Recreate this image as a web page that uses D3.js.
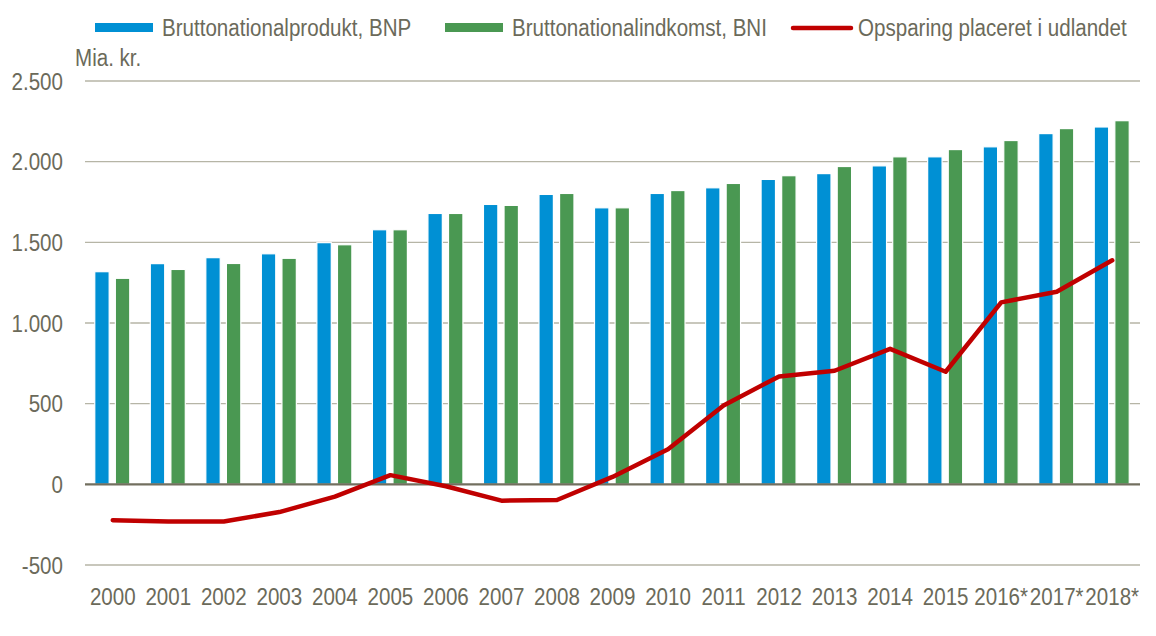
<!DOCTYPE html>
<html>
<head>
<meta charset="utf-8">
<script src="https://cdn.jsdelivr.net/npm/d3@7"></script>
<style>
  body { margin: 0; background: #fff; }
  text { font-family: "Liberation Sans", Arial, sans-serif; fill: #6b6a5a; font-size: 24.5px; }
</style>
</head>
<body>
<svg id="chart" width="1156" height="636"></svg>
<script>
// data (mia. kr.)
var years = ["2000", "2001", "2002", "2003", "2004", "2005", "2006", "2007", "2008", "2009",
             "2010", "2011", "2012", "2013", "2014", "2015", "2016*", "2017*", "2018*"];
var bnp = [1318, 1368, 1405, 1429, 1498, 1578, 1679, 1735, 1797, 1714,
           1803, 1838, 1890, 1926, 1974, 2030, 2092, 2174, 2215];
var bni = [1277, 1332, 1369, 1401, 1485, 1578, 1679, 1729, 1803, 1714,
           1821, 1865, 1913, 1970, 2030, 2075, 2131, 2205, 2254];
var opsparing = [-222, -230, -230, -172, -76, 57, -12, -101, -97, 46,
                 218, 489, 669, 704, 840, 698, 1128, 1194, 1389];
var yTicks = [-500, 0, 500, 1000, 1500, 2000, 2500];
var seriesNames = ["Bruttonationalprodukt, BNP", "Bruttonationalindkomst, BNI", "Opsparing placeret i udlandet"];

var colors = { bnp: "#0090d4", bni: "#4a9852", line: "#c00000" };

var svg = d3.select("#chart");

var x = d3.scaleBand().domain(years).range([85, 1140]);
var y = d3.scaleLinear().domain([-500, 2500]).range([565, 81]);
var xs = d3.scaleBand().domain(["bnp", "bni"]).range([-18, 17]).paddingInner(0.3);

var fmt = function (v) {
  return d3.format(",")(v).replace(/,/g, ".").replace("\u2212", "-");
};

// no narrow face installed, so squeeze the sans horizontally like Arial Narrow
var narrow = function (selection, px, py) {
  selection
    .attr("x", 0).attr("y", 0)
    .attr("transform", function (d, i) {
      return "translate(" + px(d, i) + "," + py(d, i) + ") scale(0.84,1)";
    });
};

// gridlines
svg.append("g")
  .selectAll("line")
  .data(yTicks.filter(function (t) { return t !== 0; }))
  .join("line")
    .attr("x1", 85).attr("x2", 1140)
    .attr("y1", function (d) { return y(d); })
    .attr("y2", function (d) { return y(d); })
    .attr("stroke", "#b6b5a6")
    .attr("stroke-width", 1.3);

// y tick labels
svg.append("g")
  .selectAll("text")
  .data(yTicks)
  .join("text")
    .attr("dy", "0.35em")
    .attr("text-anchor", "end")
    .text(fmt)
    .call(narrow, function () { return 63; }, function (d) { return y(d); });

svg.append("text")
  .attr("dy", "0.35em")
  .text("Mia. kr.")
  .call(narrow, function () { return 75; }, function () { return 57; });

// bars
var rows = years.map(function (yr, i) { return { year: yr, bnp: bnp[i], bni: bni[i] }; });

var groups = svg.append("g")
  .selectAll("g")
  .data(rows)
  .join("g")
    .attr("transform", function (d) { return "translate(" + (x(d.year) + x.bandwidth() / 2) + ",0)"; });

groups.selectAll("rect")
  .data(function (d) { return ["bnp", "bni"].map(function (k) { return { key: k, value: d[k] }; }); })
  .join("rect")
    .attr("x", function (d) { return xs(d.key); })
    .attr("width", xs.bandwidth())
    .attr("y", function (d) { return y(d.value); })
    .attr("height", function (d) { return y(0) - y(d.value); })
    .attr("fill", function (d) { return colors[d.key]; })
    .attr("stroke", "#fff")
    .attr("stroke-width", 1.2);

// zero axis
svg.append("line")
  .attr("x1", 85).attr("x2", 1140)
  .attr("y1", y(0)).attr("y2", y(0))
  .attr("stroke", "#726f5f")
  .attr("stroke-width", 2.2);

// x labels
svg.append("g")
  .selectAll("text")
  .data(years)
  .join("text")
    .attr("dy", "0.35em")
    .attr("text-anchor", "middle")
    .text(function (d) { return d; })
    .call(narrow, function (d) { return x(d) + x.bandwidth() / 2; }, function () { return 596; });

// line
var line = d3.line()
  .x(function (d, i) { return x(years[i]) + x.bandwidth() / 2; })
  .y(function (d) { return y(d); });

svg.append("path")
  .datum(opsparing)
  .attr("d", line)
  .attr("fill", "none")
  .attr("stroke", colors.line)
  .attr("stroke-width", 4.5)
  .attr("stroke-linejoin", "round")
  .attr("stroke-linecap", "round");

// legend
var legend = svg.append("g");
var legendItems = [
  { name: seriesNames[0], type: "bar", color: colors.bnp, x: 95 },
  { name: seriesNames[1], type: "bar", color: colors.bni, x: 445 },
  { name: seriesNames[2], type: "line", color: colors.line, x: 791 }
];
legendItems.forEach(function (d) {
  if (d.type === "bar") {
    legend.append("rect")
      .attr("x", d.x).attr("y", 23)
      .attr("width", 58).attr("height", 9)
      .attr("fill", d.color);
  } else {
    legend.append("line")
      .attr("x1", d.x + 2).attr("x2", d.x + 60)
      .attr("y1", 28).attr("y2", 28)
      .attr("stroke", d.color)
      .attr("stroke-width", 4.5)
      .attr("stroke-linecap", "round");
  }
  legend.append("text")
    .attr("dy", "0.35em")
    .text(d.name)
    .call(narrow, function () { return d.x + 67; }, function () { return 27; });
});
</script>
</body>
</html>
